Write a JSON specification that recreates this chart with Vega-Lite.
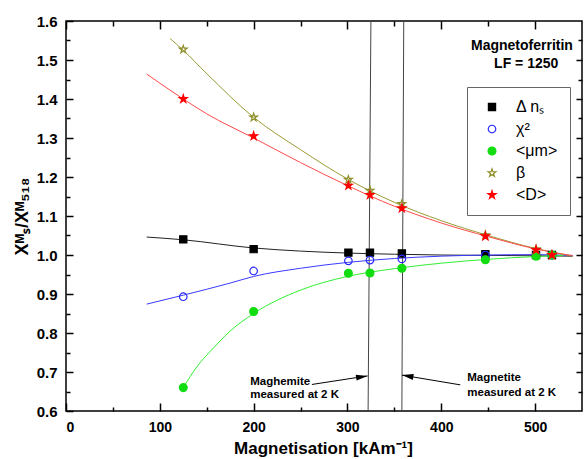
{
  "$schema": "https://vega.github.io/schema/vega-lite/v6.json",
  "autosize": "none",
  "width": 516,
  "height": 390,
  "padding": {"left": 66, "top": 21, "right": 2, "bottom": 48},
  "background": "white",
  "config": {
    "view": {"stroke": "#000", "strokeWidth": 1.5},
    "axis": {"domain": false, "grid": false, "tickColor": "#000", "tickWidth": 1.5, "labelFont": "Liberation Sans", "titleFont": "Liberation Sans", "labelColor": "#000", "titleColor": "#000"},
    "legend": {"orient": "none", "legendX": 401, "legendY": 66, "strokeColor": "#666", "fillColor": "#fff", "padding": 12, "rowPadding": 6, "symbolOffset": 5, "labelOffset": 16, "labelFont": "Liberation Sans", "labelFontSize": 16, "labelColor": "#000", "symbolStrokeWidth": 1.2, "symbolOpacity": 1},
    "text": {"font": "Liberation Sans"}
  },
  "datasets": {
    "pts": [
      {"series": "Δ nₛ", "x": 125, "y": 1.040}, {"series": "Δ nₛ", "x": 200, "y": 1.015}, {"series": "Δ nₛ", "x": 301, "y": 1.006}, {"series": "Δ nₛ", "x": 324, "y": 1.006}, {"series": "Δ nₛ", "x": 358, "y": 1.004}, {"series": "Δ nₛ", "x": 447, "y": 1.002}, {"series": "Δ nₛ", "x": 501, "y": 1.000}, {"series": "Δ nₛ", "x": 518, "y": 1.000},
      {"series": "χ²", "x": 125, "y": 0.893}, {"series": "χ²", "x": 200, "y": 0.959}, {"series": "χ²", "x": 301, "y": 0.985}, {"series": "χ²", "x": 324, "y": 0.987}, {"series": "χ²", "x": 358, "y": 0.990}, {"series": "χ²", "x": 447, "y": 1.000}, {"series": "χ²", "x": 501, "y": 1.000}, {"series": "χ²", "x": 518, "y": 1.000},
      {"series": "<μm>", "x": 125, "y": 0.660}, {"series": "<μm>", "x": 200, "y": 0.855}, {"series": "<μm>", "x": 301, "y": 0.953}, {"series": "<μm>", "x": 324, "y": 0.954}, {"series": "<μm>", "x": 358, "y": 0.966}, {"series": "<μm>", "x": 447, "y": 0.988}, {"series": "<μm>", "x": 501, "y": 0.997}, {"series": "<μm>", "x": 518, "y": 1.000},
      {"series": "β", "x": 125, "y": 1.527}, {"series": "β", "x": 200, "y": 1.353}, {"series": "β", "x": 301, "y": 1.193}, {"series": "β", "x": 324, "y": 1.165}, {"series": "β", "x": 358, "y": 1.131}, {"series": "β", "x": 447, "y": 1.051}, {"series": "β", "x": 501, "y": 1.015}, {"series": "β", "x": 518, "y": 1.000},
      {"series": "<D>", "x": 125, "y": 1.400}, {"series": "<D>", "x": 200, "y": 1.305}, {"series": "<D>", "x": 301, "y": 1.178}, {"series": "<D>", "x": 324, "y": 1.154}, {"series": "<D>", "x": 358, "y": 1.120}, {"series": "<D>", "x": 447, "y": 1.048}, {"series": "<D>", "x": 501, "y": 1.013}, {"series": "<D>", "x": 518, "y": 1.000}
    ],
    "curves": [
      {"series": "Δ nₛ", "x": 86, "y": 1.046}, {"series": "Δ nₛ", "x": 125, "y": 1.039}, {"series": "Δ nₛ", "x": 200, "y": 1.018}, {"series": "Δ nₛ", "x": 250, "y": 1.010}, {"series": "Δ nₛ", "x": 300, "y": 1.005}, {"series": "Δ nₛ", "x": 350, "y": 1.002}, {"series": "Δ nₛ", "x": 400, "y": 1.000}, {"series": "Δ nₛ", "x": 450, "y": 0.999}, {"series": "Δ nₛ", "x": 500, "y": 0.998}, {"series": "Δ nₛ", "x": 540, "y": 0.997},
      {"series": "χ²", "x": 86, "y": 0.874}, {"series": "χ²", "x": 125, "y": 0.897}, {"series": "χ²", "x": 175, "y": 0.928}, {"series": "χ²", "x": 200, "y": 0.945}, {"series": "χ²", "x": 250, "y": 0.966}, {"series": "χ²", "x": 300, "y": 0.981}, {"series": "χ²", "x": 350, "y": 0.991}, {"series": "χ²", "x": 400, "y": 0.997}, {"series": "χ²", "x": 450, "y": 1.000}, {"series": "χ²", "x": 500, "y": 1.001}, {"series": "χ²", "x": 540, "y": 0.999},
      {"series": "<μm>", "x": 125, "y": 0.660}, {"series": "<μm>", "x": 140, "y": 0.715}, {"series": "<μm>", "x": 155, "y": 0.756}, {"series": "<μm>", "x": 175, "y": 0.805}, {"series": "<μm>", "x": 200, "y": 0.850}, {"series": "<μm>", "x": 250, "y": 0.910}, {"series": "<μm>", "x": 300, "y": 0.945}, {"series": "<μm>", "x": 350, "y": 0.965}, {"series": "<μm>", "x": 400, "y": 0.979}, {"series": "<μm>", "x": 450, "y": 0.989}, {"series": "<μm>", "x": 500, "y": 0.996}, {"series": "<μm>", "x": 530, "y": 0.999},
      {"series": "β", "x": 111, "y": 1.555}, {"series": "β", "x": 125, "y": 1.525}, {"series": "β", "x": 150, "y": 1.465}, {"series": "β", "x": 200, "y": 1.353}, {"series": "β", "x": 250, "y": 1.270}, {"series": "β", "x": 300, "y": 1.195}, {"series": "β", "x": 350, "y": 1.135}, {"series": "β", "x": 400, "y": 1.088}, {"series": "β", "x": 450, "y": 1.050}, {"series": "β", "x": 500, "y": 1.017}, {"series": "β", "x": 540, "y": 0.997},
      {"series": "<D>", "x": 86, "y": 1.464}, {"series": "<D>", "x": 125, "y": 1.400}, {"series": "<D>", "x": 150, "y": 1.362}, {"series": "<D>", "x": 200, "y": 1.300}, {"series": "<D>", "x": 250, "y": 1.237}, {"series": "<D>", "x": 300, "y": 1.178}, {"series": "<D>", "x": 350, "y": 1.125}, {"series": "<D>", "x": 400, "y": 1.082}, {"series": "<D>", "x": 450, "y": 1.047}, {"series": "<D>", "x": 500, "y": 1.016}, {"series": "<D>", "x": 540, "y": 0.998}
    ],
    "vlines": [
      {"label": "Maghemite", "xb": 322, "xt": 325, "yb": 0.6, "yt": 1.6},
      {"label": "Magnetite", "xb": 358, "xt": 360, "yb": 0.6, "yt": 1.6}
    ],
    "arrows": [
      {"label": "Maghemite", "x": 262.1, "y": 0.668, "x2": 321.4, "y2": 0.690},
      {"label": "Magnetite", "x": 420.3, "y": 0.667, "x2": 358.1, "y2": 0.692}
    ],
    "notes": [
      {"text": "Maghemite", "x": 196.3, "y": 0.675},
      {"text": "measured at 2 K", "x": 196.3, "y": 0.641},
      {"text": "Magnetite", "x": 427.7, "y": 0.685},
      {"text": "measured at 2 K", "x": 427.7, "y": 0.646}
    ],
    "titles": [
      {"text": "Magnetoferritin", "x": 486, "y": 1.536},
      {"text": "LF = 1250", "x": 490.5, "y": 1.489}
    ]
  },
  "resolve": {"axis": {"x": "independent", "y": "independent"}},
  "layer": [
    {
      "mark": {"type": "rule", "strokeDash": [6, 4], "color": "#000", "strokeWidth": 1},
      "encoding": {
        "y": {"datum": 1, "type": "quantitative", "scale": {"domain": [0.6, 1.6], "nice": false, "zero": false}, "axis": null}
      }
    },
    {
      "data": {"name": "vlines"},
      "mark": {"type": "rule", "color": "#444", "strokeWidth": 1},
      "encoding": {
        "x": {"field": "xb", "type": "quantitative", "scale": {"domain": [0, 550], "nice": false, "zero": false},
              "axis": {"orient": "top", "values": [0, 100, 200, 300, 400, 500], "labels": false, "tickSize": -8, "title": null}},
        "x2": {"field": "xt"},
        "y": {"field": "yb", "type": "quantitative", "scale": {"domain": [0.6, 1.6], "nice": false, "zero": false},
              "axis": {"orient": "right", "values": [0.7, 0.8, 0.9, 1.0, 1.1, 1.2, 1.3, 1.4, 1.5], "labels": false, "tickSize": -6, "title": null}},
        "y2": {"field": "yt"}
      }
    },
    {
      "data": {"name": "curves"},
      "mark": {"type": "line", "strokeWidth": 1, "interpolate": "monotone"},
      "encoding": {
        "x": {"field": "x", "type": "quantitative", "scale": {"domain": [0, 550], "nice": false, "zero": false},
              "axis": {"orient": "bottom", "values": [0, 100, 200, 300, 400, 500], "tickSize": -8, "labelPadding": 17, "labelFontSize": 14, "labelFontWeight": "bold",
                       "title": "Magnetisation [kAm⁻¹]", "titleFontSize": 17, "titleFontWeight": "bold", "titleX": 257, "titleY": 42, "titleBaseline": "alphabetic", "titleAlign": "center"}},
        "y": {"field": "y", "type": "quantitative", "scale": {"domain": [0.6, 1.6], "nice": false, "zero": false},
              "axis": {"orient": "left", "values": [0.6, 0.7, 0.8, 0.9, 1.0, 1.1, 1.2, 1.3, 1.4, 1.5, 1.6], "format": ".1f", "tickSize": -7, "labelPadding": 16, "labelFontSize": 15, "labelFontWeight": "bold",
                       "title": "Xᴹₛ/Xᴹ₅₁₈", "titleFontSize": 18, "titleFontWeight": "bold", "titleX": -44, "titleY": 195, "titleAngle": -90, "titleAlign": "center", "titleBaseline": "middle"}},
        "color": {"field": "series", "type": "nominal", "legend": null,
                  "scale": {"domain": ["<D>", "β", "<μm>", "χ²", "Δ nₛ"], "range": ["#ff4a4a", "#9a9a33", "#33ee33", "#3a3aff", "#222222"]}}
      }
    },
    {
      "data": {"name": "pts"},
      "mark": {"type": "point", "opacity": 1, "strokeWidth": 1.2},
      "encoding": {
        "x": {"field": "x", "type": "quantitative", "scale": {"domain": [0, 550], "nice": false, "zero": false},
              "axis": {"orient": "bottom", "values": [50, 150, 250, 350, 450], "labels": false, "tickSize": -4, "title": null}},
        "y": {"field": "y", "type": "quantitative", "scale": {"domain": [0.6, 1.6], "nice": false, "zero": false},
              "axis": {"orient": "left", "values": [0.65, 0.75, 0.85, 0.95, 1.05, 1.15, 1.25, 1.35, 1.45, 1.55], "labels": false, "tickSize": -4, "title": null}},
        "shape": {"field": "series", "type": "nominal", "legend": {"title": null},
                  "scale": {"domain": ["Δ nₛ", "χ²", "<μm>", "β", "<D>"], "range": ["square", "circle", "circle", "M0,-1L0.2245,-0.309L0.951,-0.309L0.3633,0.118L0.588,0.809L0,0.382L-0.588,0.809L-0.3633,0.118L-0.951,-0.309L-0.2245,-0.309Z", "M0,-1L0.2245,-0.309L0.951,-0.309L0.3633,0.118L0.588,0.809L0,0.382L-0.588,0.809L-0.3633,0.118L-0.951,-0.309L-0.2245,-0.309Z"]}},
        "stroke": {"field": "series", "type": "nominal", "legend": {"title": null},
                   "scale": {"domain": ["Δ nₛ", "χ²", "<μm>", "β", "<D>"], "range": ["#000000", "#2b2bff", "#11dd11", "#8f8f2a", "#ff0000"]}},
        "fill": {"field": "series", "type": "nominal", "legend": {"title": null},
                 "scale": {"domain": ["Δ nₛ", "χ²", "<μm>", "β", "<D>"], "range": ["#000000", "transparent", "#11dd11", "transparent", "#ff0000"]}},
        "size": {"field": "series", "type": "nominal", "legend": {"title": null},
                 "scale": {"domain": ["Δ nₛ", "χ²", "<μm>", "β", "<D>"], "range": [52, 72, 85, 110, 110]}}
      }
    },
    {
      "data": {"name": "arrows"},
      "mark": {"type": "rule", "color": "#000", "strokeWidth": 1},
      "encoding": {
        "x": {"field": "x", "type": "quantitative", "scale": {"domain": [0, 550], "nice": false, "zero": false},
              "axis": {"orient": "top", "values": [50, 150, 250, 350, 450], "labels": false, "tickSize": -5, "title": null}},
        "x2": {"field": "x2"},
        "y": {"field": "y", "type": "quantitative", "scale": {"domain": [0.6, 1.6], "nice": false, "zero": false},
              "axis": {"orient": "right", "values": [0.65, 0.75, 0.85, 0.95, 1.05, 1.15, 1.25, 1.35, 1.45, 1.55], "labels": false, "tickSize": -4, "title": null}},
        "y2": {"field": "y2"}
      }
    },
    {
      "data": {"name": "arrows"},
      "transform": [{"filter": "datum.label == 'Maghemite'"}],
      "mark": {"type": "point", "shape": "M0,0L-4.6,-1.2L-4.6,1.2Z", "filled": true, "color": "#000", "opacity": 1, "size": 25, "angle": -8.5},
      "encoding": {
        "x": {"field": "x2", "type": "quantitative", "scale": {"domain": [0, 550], "nice": false, "zero": false}, "axis": null},
        "y": {"field": "y2", "type": "quantitative", "scale": {"domain": [0.6, 1.6], "nice": false, "zero": false}, "axis": null}
      }
    },
    {
      "data": {"name": "arrows"},
      "transform": [{"filter": "datum.label == 'Magnetite'"}],
      "mark": {"type": "point", "shape": "M0,0L-4.6,-1.2L-4.6,1.2Z", "filled": true, "color": "#000", "opacity": 1, "size": 25, "angle": 189.7},
      "encoding": {
        "x": {"field": "x2", "type": "quantitative", "scale": {"domain": [0, 550], "nice": false, "zero": false}, "axis": null},
        "y": {"field": "y2", "type": "quantitative", "scale": {"domain": [0.6, 1.6], "nice": false, "zero": false}, "axis": null}
      }
    },
    {
      "data": {"name": "notes"},
      "mark": {"type": "text", "align": "left", "baseline": "middle", "fontSize": 11.5, "fontWeight": "bold", "color": "#000", "font": "Liberation Sans"},
      "encoding": {
        "x": {"field": "x", "type": "quantitative", "scale": {"domain": [0, 550], "nice": false, "zero": false}, "axis": null},
        "y": {"field": "y", "type": "quantitative", "scale": {"domain": [0.6, 1.6], "nice": false, "zero": false}, "axis": null},
        "text": {"field": "text"}
      }
    },
    {
      "data": {"name": "titles"},
      "mark": {"type": "text", "align": "center", "baseline": "middle", "fontSize": 14, "fontWeight": "bold", "color": "#000", "font": "Liberation Sans"},
      "encoding": {
        "x": {"field": "x", "type": "quantitative", "scale": {"domain": [0, 550], "nice": false, "zero": false}, "axis": null},
        "y": {"field": "y", "type": "quantitative", "scale": {"domain": [0.6, 1.6], "nice": false, "zero": false}, "axis": null},
        "text": {"field": "text"}
      }
    }
  ]
}
